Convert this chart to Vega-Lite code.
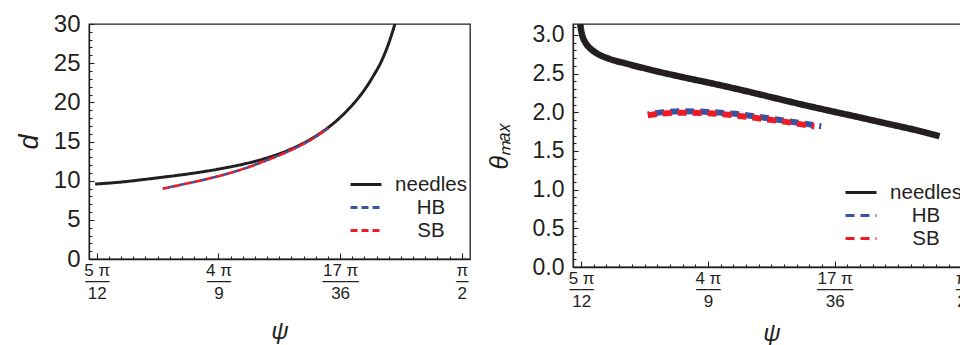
{
  "$schema": "https://vega.github.io/schema/vega-lite/v6.json",
  "padding": {"left": 14, "top": 11, "right": 0, "bottom": 0},
  "bounds": "flush",
  "spacing": 103,
  "config": {
    "font": "Liberation Sans",
    "view": {"stroke": "#231f20", "strokeWidth": 1.3},
    "axis": {"domainColor": "#231f20", "domainWidth": 1.3, "tickColor": "#231f20", "tickWidth": 1.1, "labelColor": "#231f20", "titleColor": "#231f20", "grid": false, "labelFont": "Liberation Sans", "titleFont": "Liberation Sans", "titleFontStyle": "italic", "titleFontWeight": "normal", "labelOverlap": false, "labelFlush": false, "labelBound": false},
    "legend": {"orient": "none", "title": null, "symbolType": "stroke", "symbolSize": 961, "symbolStrokeWidth": 3, "clipHeight": 23, "rowPadding": 0, "padding": 0, "labelAlign": "center", "labelOffset": 48, "labelFontSize": 20.5, "labelFont": "Liberation Sans", "labelColor": "#231f20"}
  },
  "datasets": {
    "left": [
      {"s": "needles", "psi": 1.3078, "v": 9.57},
      {"s": "needles", "psi": 1.325, "v": 9.8},
      {"s": "needles", "psi": 1.3497, "v": 10.3},
      {"s": "needles", "psi": 1.37, "v": 10.75},
      {"s": "needles", "psi": 1.3855, "v": 11.15},
      {"s": "needles", "psi": 1.4, "v": 11.6},
      {"s": "needles", "psi": 1.415, "v": 12.15},
      {"s": "needles", "psi": 1.43, "v": 12.85},
      {"s": "needles", "psi": 1.4452, "v": 13.8},
      {"s": "needles", "psi": 1.46, "v": 15.05},
      {"s": "needles", "psi": 1.4751, "v": 16.8},
      {"s": "needles", "psi": 1.4822, "v": 17.85},
      {"s": "needles", "psi": 1.4894, "v": 19.1},
      {"s": "needles", "psi": 1.4954, "v": 20.3},
      {"s": "needles", "psi": 1.5014, "v": 21.7},
      {"s": "needles", "psi": 1.5073, "v": 23.35},
      {"s": "needles", "psi": 1.5133, "v": 25.3},
      {"s": "needles", "psi": 1.5181, "v": 27.4},
      {"s": "needles", "psi": 1.5229, "v": 30.0},
      {"s": "HB", "psi": 1.3563, "v": 8.98},
      {"s": "HB", "psi": 1.37, "v": 9.5},
      {"s": "HB", "psi": 1.3855, "v": 10.1},
      {"s": "HB", "psi": 1.4, "v": 10.75},
      {"s": "HB", "psi": 1.415, "v": 11.55},
      {"s": "HB", "psi": 1.43, "v": 12.55},
      {"s": "HB", "psi": 1.4452, "v": 13.65},
      {"s": "HB", "psi": 1.46, "v": 14.95},
      {"s": "HB", "psi": 1.4751, "v": 16.7},
      {"s": "SB", "psi": 1.3563, "v": 8.98},
      {"s": "SB", "psi": 1.37, "v": 9.5},
      {"s": "SB", "psi": 1.3855, "v": 10.1},
      {"s": "SB", "psi": 1.4, "v": 10.75},
      {"s": "SB", "psi": 1.415, "v": 11.55},
      {"s": "SB", "psi": 1.43, "v": 12.55},
      {"s": "SB", "psi": 1.4452, "v": 13.65},
      {"s": "SB", "psi": 1.46, "v": 14.95},
      {"s": "SB", "psi": 1.4751, "v": 16.7}
    ],
    "right": [
      {"s": "needles", "psi": 1.3083, "v": 3.1416},
      {"s": "needles", "psi": 1.3097, "v": 3.0},
      {"s": "needles", "psi": 1.312, "v": 2.9},
      {"s": "needles", "psi": 1.315, "v": 2.83},
      {"s": "needles", "psi": 1.32, "v": 2.76},
      {"s": "needles", "psi": 1.3285, "v": 2.69},
      {"s": "needles", "psi": 1.34, "v": 2.63},
      {"s": "needles", "psi": 1.36, "v": 2.535},
      {"s": "needles", "psi": 1.38, "v": 2.45},
      {"s": "needles", "psi": 1.4, "v": 2.37},
      {"s": "needles", "psi": 1.42, "v": 2.285},
      {"s": "needles", "psi": 1.44, "v": 2.195},
      {"s": "needles", "psi": 1.46, "v": 2.105},
      {"s": "needles", "psi": 1.48, "v": 2.02},
      {"s": "needles", "psi": 1.5, "v": 1.937},
      {"s": "needles", "psi": 1.52, "v": 1.852},
      {"s": "needles", "psi": 1.54, "v": 1.767},
      {"s": "needles", "psi": 1.5557, "v": 1.69},
      {"s": "HB", "psi": 1.3549, "v": 1.975},
      {"s": "HB", "psi": 1.365, "v": 2.0},
      {"s": "HB", "psi": 1.3779, "v": 2.013},
      {"s": "HB", "psi": 1.3963, "v": 2.005},
      {"s": "HB", "psi": 1.415, "v": 1.98},
      {"s": "HB", "psi": 1.4352, "v": 1.93},
      {"s": "HB", "psi": 1.455, "v": 1.875},
      {"s": "HB", "psi": 1.4743, "v": 1.82},
      {"s": "SB", "psi": 1.3549, "v": 1.96},
      {"s": "SB", "psi": 1.365, "v": 1.985},
      {"s": "SB", "psi": 1.3779, "v": 1.995},
      {"s": "SB", "psi": 1.3963, "v": 1.988},
      {"s": "SB", "psi": 1.415, "v": 1.96},
      {"s": "SB", "psi": 1.4352, "v": 1.912},
      {"s": "SB", "psi": 1.455, "v": 1.862},
      {"s": "SB", "psi": 1.4695, "v": 1.815}
    ]
  },
  "hconcat": [
    {
      "width": 381,
      "height": 235,
      "data": {"name": "left"},
      "encoding": {
        "x": {"field": "psi", "type": "quantitative", "scale": {"domain": [1.3034, 1.5767], "nice": false, "zero": false},
          "axis": {"title": "ψ", "titleFontSize": 24, "titlePadding": 18, "labelFontSize": 17, "labelLineHeight": 11.5, "labelPadding": 9,
            "values": [1.30899694,1.31772359,1.32645023,1.33517688,1.34390353,1.35263017,1.36135682,1.37008346,1.37881011,1.38753676,1.3962634,1.40499005,1.41371669,1.42244334,1.43116999,1.43989663,1.44862328,1.45734993,1.46607657,1.47480322,1.48352986,1.49225651,1.50098316,1.5097098,1.51843645,1.52716309,1.53588974,1.54461639,1.55334303,1.56206968,1.57079633],
            "labelExpr": "abs(datum.value*36/PI - round(datum.value*36/PI)) > 0.05 ? '' : (datum.value < 1.35 ? ['5 π','──','12'] : datum.value < 1.44 ? ['4 π','──','9'] : datum.value < 1.52 ? ['17 π','───','36'] : ['π','─','2'])",
            "tickSize": {"condition": {"test": "abs(datum.value*36/PI - round(datum.value*36/PI)) < 0.05", "value": -6}, "value": -3}}},
        "y": {"field": "v", "type": "quantitative", "scale": {"domain": [0, 30], "nice": false},
          "axis": {"title": "d", "titleFontSize": 27, "titlePadding": 10, "labelFontSize": 24, "labelPadding": 14,
            "values": [0,1,2,3,4,5,6,7,8,9,10,11,12,13,14,15,16,17,18,19,20,21,22,23,24,25,26,27,28,29,30],
            "labelExpr": "datum.value % 5 === 0 ? datum.label : ''",
            "tickSize": {"condition": {"test": "datum.value % 5 === 0", "value": -5}, "value": -3}}},
        "color": {"field": "s", "type": "nominal", "scale": {"domain": ["needles", "HB", "SB"], "range": ["#231f20", "#3953a4", "#ed1c24"]},
          "legend": {"legendX": 260, "legendY": 149, "encode": {"symbols": {"update": {"strokeWidth": {"value": 3}}}}}},
        "strokeDash": {"field": "s", "type": "nominal", "scale": {"domain": ["needles", "HB", "SB"], "range": [[1, 0], [7, 4], [7, 4]]},
          "legend": {"legendX": 260, "legendY": 149, "encode": {"symbols": {"update": {"strokeWidth": {"value": 3}}}}}}
      },
      "layer": [
        {"transform": [{"filter": "datum.s === 'needles'"}], "mark": {"type": "line", "strokeWidth": 3, "interpolate": "monotone", "clip": true}},
        {"transform": [{"filter": "datum.s === 'HB'"}], "mark": {"type": "line", "strokeWidth": 2.6, "interpolate": "monotone", "strokeDashOffset": 5.5, "clip": true}},
        {"transform": [{"filter": "datum.s === 'SB'"}], "mark": {"type": "line", "strokeWidth": 2.6, "interpolate": "monotone", "clip": true}}
      ]
    },
    {
      "width": 397,
      "height": 243,
      "data": {"name": "right"},
      "encoding": {
        "x": {"field": "psi", "type": "quantitative", "scale": {"domain": [1.3034, 1.5767], "nice": false, "zero": false},
          "axis": {"title": "ψ", "titleFontSize": 24, "titlePadding": 12, "labelFontSize": 17, "labelLineHeight": 11.5, "labelPadding": 9,
            "values": [1.30899694,1.31772359,1.32645023,1.33517688,1.34390353,1.35263017,1.36135682,1.37008346,1.37881011,1.38753676,1.3962634,1.40499005,1.41371669,1.42244334,1.43116999,1.43989663,1.44862328,1.45734993,1.46607657,1.47480322,1.48352986,1.49225651,1.50098316,1.5097098,1.51843645,1.52716309,1.53588974,1.54461639,1.55334303,1.56206968,1.57079633],
            "labelExpr": "abs(datum.value*36/PI - round(datum.value*36/PI)) > 0.05 ? '' : (datum.value < 1.35 ? ['5 π','──','12'] : datum.value < 1.44 ? ['4 π','──','9'] : datum.value < 1.52 ? ['17 π','───','36'] : ['π','─','2'])",
            "tickSize": {"condition": {"test": "abs(datum.value*36/PI - round(datum.value*36/PI)) < 0.05", "value": -6}, "value": -3}}},
        "y": {"field": "v", "type": "quantitative", "scale": {"domain": [0, 3.14159], "nice": false},
          "axis": {"title": "θₘₐₓ", "titleFontSize": 25, "titlePadding": 20, "labelFontSize": 23, "labelPadding": 14,
            "values": [0,0.1,0.2,0.3,0.4,0.5,0.6,0.7,0.8,0.9,1,1.1,1.2,1.3,1.4,1.5,1.6,1.7,1.8,1.9,2,2.1,2.2,2.3,2.4,2.5,2.6,2.7,2.8,2.9,3,3.1],
            "labelExpr": "abs(datum.value*2 - round(datum.value*2)) < 0.01 ? format(datum.value, '.1f') : ''",
            "tickSize": {"condition": {"test": "abs(datum.value*2 - round(datum.value*2)) < 0.01", "value": -5}, "value": -3}}},
        "color": {"field": "s", "type": "nominal", "scale": {"domain": ["needles", "HB", "SB"], "range": ["#231f20", "#3953a4", "#ed1c24"]},
          "legend": {"legendX": 271, "legendY": 157, "encode": {"symbols": {"update": {"strokeWidth": {"value": 3}, "strokeDash": {"signal": "datum.value === 'needles' ? [1,0] : [8,3.5]"}}}}}},
        "strokeDash": {"field": "s", "type": "nominal", "scale": {"domain": ["needles", "HB", "SB"], "range": [[1, 0], [9, 6], [9, 6]]},
          "legend": {"legendX": 271, "legendY": 157, "encode": {"symbols": {"update": {"strokeWidth": {"value": 3}, "strokeDash": {"signal": "datum.value === 'needles' ? [1,0] : [8,3.5]"}}}}}}
      },
      "layer": [
        {"transform": [{"filter": "datum.s === 'needles'"}], "mark": {"type": "line", "strokeWidth": 6.5, "interpolate": "monotone", "clip": true}},
        {"transform": [{"filter": "datum.s === 'HB'"}], "mark": {"type": "line", "strokeWidth": 6, "interpolate": "monotone", "strokeDashOffset": 7.5, "clip": true}},
        {"transform": [{"filter": "datum.s === 'SB'"}], "mark": {"type": "line", "strokeWidth": 6, "interpolate": "monotone", "clip": true}}
      ]
    }
  ],
  "resolve": {"scale": {"color": "independent", "strokeDash": "independent", "x": "independent", "y": "independent"}, "legend": {"color": "independent", "strokeDash": "independent"}}
}
